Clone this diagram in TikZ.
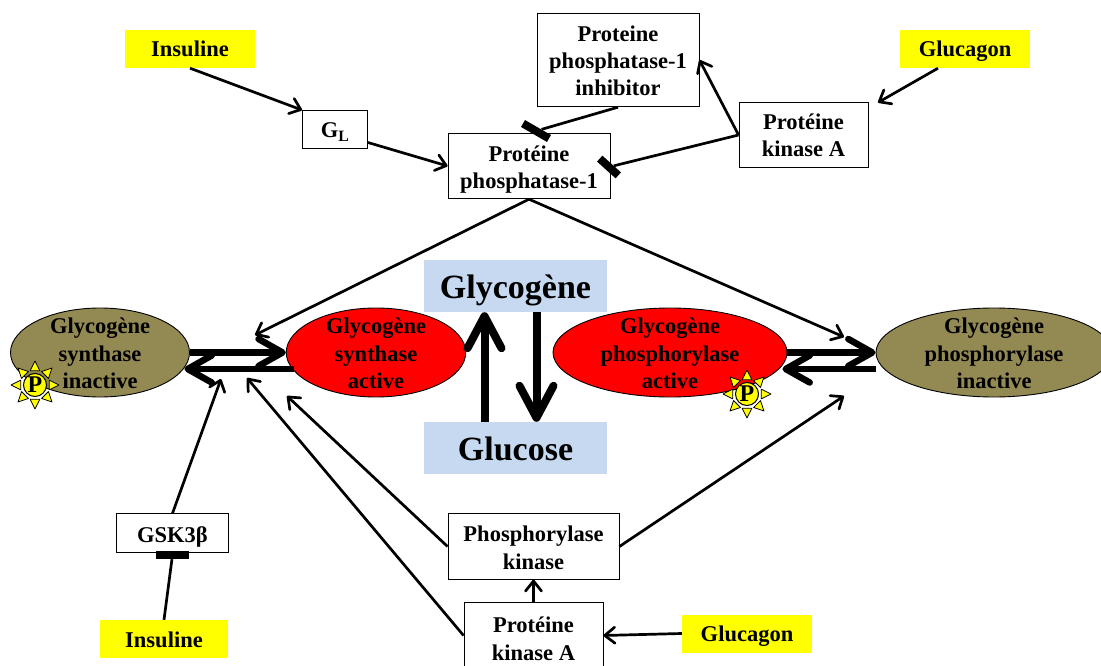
\documentclass[tikz,border=0pt]{standalone}
\usepackage{fontspec}
\setmainfont{Liberation Serif}
\usetikzlibrary{arrows.meta,shapes.geometric}

\definecolor{dullolive}{HTML}{938953}
\definecolor{paleblue}{HTML}{C6D9F1}
\definecolor{hotyellow}{HTML}{FFFF00}
\definecolor{hotred}{HTML}{FF0000}

\tikzset{
    caption/.style = {font=\fontsize{22.5}{27.4}\selectfont\bfseries, align=center, inner sep=0pt, text depth=0pt},
    box/.style = {caption, draw, line width=0.9pt},
    hormone/.style = {font=\fontsize{22.5}{27}\selectfont\bfseries, inner sep=0pt, text height=22pt, text depth=6pt, fill=hotyellow, minimum width=130pt, minimum height=38pt},
    sugar/.style = {font=\fontsize{34}{40}\selectfont\bfseries, inner sep=0pt, text height=34pt, text depth=10pt, fill=paleblue, minimum width=183pt, minimum height=52pt},
    enzyme/.style = {caption, ellipse, draw, line width=0.9pt, inner ysep=-5pt, text height=72pt, minimum height=89pt},
    block/.style = {fill=black, inner sep=0pt, minimum width=30pt, minimum height=8pt},
    slim/.style = {line width=2.7pt},
    fat/.style = {line width=6.5pt, >={Straight Barb[round,length=24pt,width=27pt]}},
    vert/.style = {line width=8pt, >={Straight Barb[round,length=32pt,width=34pt]}},
    psun/.style = {circle, draw, line width=1pt, fill=hotyellow, inner sep=0pt, minimum size=23pt, font=\fontsize{24}{24}\selectfont\bfseries},
    sunray/.style = {draw, line width=0.8pt, fill=hotyellow, line join=round}
}

\begin{document}
\begin{tikzpicture}[x=1pt, y=-1pt, >={Straight Barb[round,length=10pt,width=16pt]}]
                \clip (0,0) rectangle (1101,666);

                \node (GSin) [enzyme, fill=dullolive, minimum width=179pt] at (100,352.5) {Glycogène\\synthase\\inactive};
                \node (GSact) [enzyme, fill=hotred, minimum width=179.5pt, right of = GSin, node distance = 276pt] {Glycogène\\synthase\\active};
                \node (GPact) [enzyme, fill=hotred, minimum width=234pt, right of = GSact, node distance = 294pt] {Glycogène\\phosphorylase\\active};
                \node (GPin) [enzyme, fill=dullolive, minimum width=236pt, right of = GPact, node distance = 324pt] {Glycogène\\phosphorylase\\inactive};

                \node (Glycogene) [sugar, right of = GSact, node distance = 139.5pt, yshift = 66.5pt] {Glycogène};
                \node (Glucose) [sugar, below of = Glycogene, node distance = 162pt] {Glucose};

                \node (PP1) [box, text height=45pt, minimum width=162pt, minimum height=65.5pt, above of = Glycogene, node distance = 120pt, xshift = 13.5pt] {Protéine\\phosphatase-1};
                \node (Inhib) [box, text height=72pt, minimum width=162pt, minimum height=93.5pt, above of = PP1, node distance = 106pt, xshift = 89pt] {Proteine\\phosphatase-1\\inhibitor};
                \node (PKA1) [box, text height=43.5pt, minimum width=129pt, minimum height=65.5pt, right of = PP1, node distance = 274.5pt, yshift = 31pt] {Protéine\\kinase A};
                \node (GL) [box, text height=17pt, minimum width=65pt, minimum height=38pt, left of = PP1, node distance = 194pt, yshift = 36.5pt] {G\textsubscript{L}};
                \node (Ins1) [hormone, left of = GL, node distance = 145pt, yshift = 80.5pt] {Insuline};
                \node (Gluc1) [hormone, right of = Ins1, node distance = 775pt] {Glucagon};

                \node (Phos) [box, text height=45pt, minimum width=171pt, minimum height=65.5pt, below of = Glucose, node distance = 98.5pt, xshift = 18pt] {Phosphorylase\\kinase};
                \node (PKA2) [box, text height=49pt, minimum width=139pt, minimum height=65.5pt, below of = Phos, node distance = 89pt] {Protéine\\kinase A};
                \node (Gluc2) [hormone, right of = PKA2, node distance = 213.5pt, yshift = 2pt] {Glucagon};

                \node (GSK) [box, text height=18pt, minimum width=112pt, minimum height=38.5pt, below of = GSin, node distance = 180.5pt, xshift = 72.5pt] {GSK3β};
                \node (Ins2) [hormone, minimum width=128pt, below of = GSK, node distance = 106pt, xshift = -8.5pt] {Insuline};

                \node (BarA) [block, rotate = -30] at (536,131) {};
                \node (BarB) [block, rotate = -42, minimum width=25pt] at (609,167) {};
                \node (BarC) [block, minimum width=33pt, below of = GSK, node distance = 22pt] {};

                \coordinate (GStop) at (255,335);
                \coordinate (GPtop) at (844,337);
                \coordinate (GSlow) at (221,379);
                \coordinate (GSmid) at (247,378);
                \coordinate (GSact2) at (287,396);
                \coordinate (GPlow) at (844,396);
                \coordinate (PKAtip) at (878,102.5);

                \draw[->, slim] (Ins1.south) -- (GL.north west);
                \draw[->, slim] ([yshift = -13pt]GL.east) -- (PP1.west);
                \draw[->, slim] ([xshift = -27pt]Gluc1.south) -- (PKAtip);
                \draw[->, slim] (PKA1.west) -- (Inhib.east);
                \draw[slim] (Inhib.south) -- (BarA);
                \draw[slim] (PKA1.west) -- (BarB);

                \draw[->, slim] (PP1.south) -- (GStop);
                \draw[->, slim] (PP1.south) -- (GPtop);

                \draw[->, fat] (GSin.east) -- (GSact.west);
                \draw[->, fat] ([xshift = 8.5pt, yshift = -16.5pt]GSact.west) -- ([xshift = -5.5pt, yshift = -16.5pt]GSin.east);
                \draw[->, fat] (GPact.east) -- (GPin.west);
                \draw[->, fat] ([yshift = -16.5pt]GPin.west) -- ([xshift = -5pt, yshift = -16.5pt]GPact.east);

                \draw[->, vert] ([xshift = -31pt]Glucose.north) -- ([xshift = -31pt]Glycogene.south);
                \draw[->, vert] ([xshift = 21pt]Glycogene.south) -- ([xshift = 21pt]Glucose.north);

                \draw[->, slim] (GSK.north) -- (GSlow);
                \draw[slim] (Ins2.north) -- (BarC);
                \draw[->, slim] (PKA2.west) -- (GSmid);
                \draw[->, slim] (Phos.west) -- (GSact2);
                \draw[->, slim] (Phos.east) -- (GPlow);
                \draw[->, slim] (PKA2.north) -- (Phos.south);
                \draw[->, slim] (Gluc2.west) -- (PKA2.east);

                \node (SunA) [psun] at (35,385) {P};
                \node (SunB) [psun] at (747,394) {P};
                \foreach \s in {SunA, SunB}
                    \foreach \a in {0,45,...,315}
                        \path[sunray] ([shift={(\a-19:15)}]\s.center) -- ([shift={(\a:24)}]\s.center) -- ([shift={(\a+19:15)}]\s.center) -- cycle;
            \end{tikzpicture}
\end{document}
